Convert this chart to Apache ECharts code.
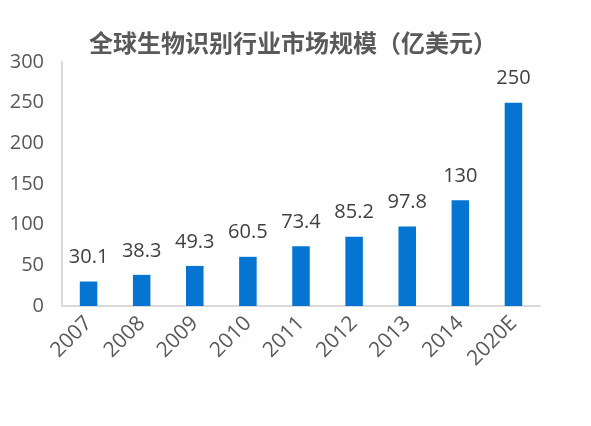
<!DOCTYPE html>
<html>
<head>
<meta charset="utf-8">
<script src="https://cdn.jsdelivr.net/npm/echarts@6/dist/echarts.min.js"></script>
<style>
  html, body { margin: 0; padding: 0; background: #fff; }
  #chart { width: 591px; height: 426px; }
</style>
</head>
<body>
<div id="chart"></div>
<script>
const TITLE = "全球生物识别行业市场规模（亿美元）";
const years = ["2007", "2008", "2009", "2010", "2011", "2012", "2013", "2014", "2020E"];
const marketSize = [30.1, 38.3, 49.3, 60.5, 73.4, 85.2, 97.8, 130, 250];

const chart = echarts.init(document.getElementById("chart"));
chart.setOption({
  animation: false,
  title: {
    text: TITLE,
    left: 288,
    textAlign: "center",
    top: 24,
    textStyle: { fontSize: 24, fontWeight: "bold", color: "#595959", fontFamily: "Noto Sans CJK SC", lineHeight: 28 }
  },
  grid: { left: 62, right: 51, top: 62, bottom: 120, containLabel: false },
  xAxis: {
    type: "category",
    data: years,
    axisLine: { lineStyle: { color: "#d9d9d9", width: 2 } },
    axisTick: { show: false },
    axisLabel: { rotate: 45, fontSize: 21, color: "#595959", fontFamily: "Open Sans", margin: 14, interval: 0 }
  },
  yAxis: {
    type: "value",
    min: 0,
    max: 300,
    interval: 50,
    splitLine: { show: false },
    axisLine: { show: true, lineStyle: { color: "#d9d9d9", width: 2 } },
    axisTick: { show: false },
    axisLabel: { fontSize: 20, color: "#595959", fontFamily: "Open Sans", margin: 18 }
  },
  series: [{
    type: "bar",
    data: marketSize,
    barWidth: "33%",
    itemStyle: { color: "#0575d1" },
    label: {
      show: true,
      position: "top",
      distance: 14,
      fontSize: 20,
      color: "#404040",
      fontFamily: "Open Sans"
    }
  }]
});
</script>
</body>
</html>
